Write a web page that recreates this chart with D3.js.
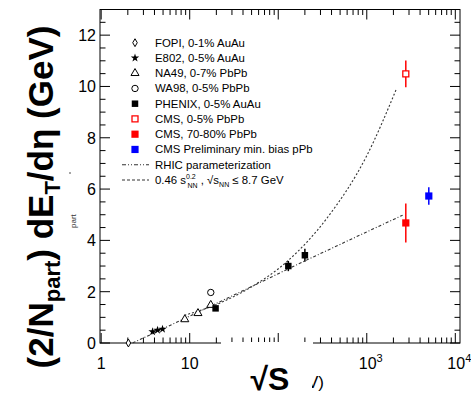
<!DOCTYPE html>
<html>
<head>
<meta charset="utf-8">
<script src="https://cdn.jsdelivr.net/npm/d3@7"></script>
<style>
  body { margin: 0; background: #fff; }
  text { font-family: "Liberation Sans", Arial, sans-serif; }
</style>
</head>
<body>
<div id="chart"></div>
<script>
// ---------------- data ----------------
const fopi = [{ s: 2.03, v: 0.0 }];
const e802 = [{ s: 3.81, v: 0.44 }, { s: 4.33, v: 0.5 }, { s: 4.93, v: 0.54 }];
const na49 = [{ s: 8.8, v: 0.92 }, { s: 12.4, v: 1.16 }, { s: 17.3, v: 1.48 }];
const wa98 = [{ s: 17.3, v: 1.97 }];
const phenix = [{ s: 19.6, v: 1.35, e: 0 }, { s: 130, v: 3.0, e: 0.2 }, { s: 200, v: 3.42, e: 0.25 }];
const cmsCentral = [{ s: 2760, v: 10.49, e: 0.52 }];
const cmsPeriph = [{ s: 2760, v: 4.68, e: 0.76 }];
const cmsPPb = [{ s: 5020, v: 5.73, e: 0.34 }];

const rhicCurve = [{ s: 2.27, v: 0 }, { s: 17.3, v: 1.44 }, { s: 50, v: 2.2 }, { s: 200, v: 3.2 }, { s: 700, v: 4.08 }, { s: 2540, v: 4.98 }];
const powerCurve = [{ s: 8.7, v: 1.08 }, { s: 20, v: 1.5 }, { s: 44.5, v: 2.09 }, { s: 130, v: 3.22 }, { s: 352, v: 4.85 }, { s: 1000, v: 7.3 }, { s: 2160, v: 9.9 }];

const yTicks = [0, 2, 4, 6, 8, 10, 12];
const xTickLabels = [
    { s: 1, base: '1', exp: '' },
    { s: 10, base: '10', exp: '' },
    { s: 1000, base: '10', exp: '3' },
    { s: 10000, base: '10', exp: '4' }
];

const legendItems = [
    { label: 'FOPI, 0-1% AuAu', kind: 'diamond' },
    { label: 'E802, 0-5% AuAu', kind: 'star' },
    { label: 'NA49, 0-7% PbPb', kind: 'triangle' },
    { label: 'WA98, 0-5% PbPb', kind: 'circle' },
    { label: 'PHENIX, 0-5% AuAu', kind: 'square' },
    { label: 'CMS, 0-5% PbPb', kind: 'openred' },
    { label: 'CMS, 70-80% PbPb', kind: 'red' },
    { label: 'CMS Preliminary min. bias pPb', kind: 'blue' },
    { label: 'RHIC parameterization', kind: 'dashdot' },
    { label: 'power', kind: 'dashed' }
];

// ---------------- drawing ----------------
const W = 471, H = 397;
const pLeft = 100, pRight = 460, pTop = 9.5, pBottom = 343;

const svg = d3.select('#chart')
    .append('svg')
    .attr('width', W)
    .attr('height', H);

const x = d3.scaleLog().domain([0.97, 11300]).range([pLeft, pRight]);
const y = d3.scaleLinear().domain([0, 13]).range([pBottom, pTop]);

// frame
svg.append('rect')
    .attr('x', pLeft).attr('y', pTop)
    .attr('width', pRight - pLeft).attr('height', pBottom - pTop)
    .attr('fill', 'none').attr('stroke', '#000').attr('stroke-width', 1);

// log ticks on top and bottom
const logTicks = [];
for (let e = 0; e <= 4; e++) {
    for (let m = 1; m <= 9; m++) {
        const v = m * Math.pow(10, e);
        if (v <= 11300) logTicks.push({ v, major: m === 1 });
    }
}
svg.selectAll('.xt-bottom')
    .data(logTicks)
    .enter()
    .append('line')
    .attr('x1', d => x(d.v)).attr('x2', d => x(d.v))
    .attr('y1', pBottom).attr('y2', d => pBottom - (d.major ? 10 : 5.5))
    .attr('stroke', '#000');
svg.selectAll('.xt-top')
    .data(logTicks)
    .enter()
    .append('line')
    .attr('x1', d => x(d.v)).attr('x2', d => x(d.v))
    .attr('y1', pTop).attr('y2', d => pTop + (d.major ? 10 : 5.5))
    .attr('stroke', '#000');

// the bottom axis line is broken under the title
svg.append('rect')
    .attr('x', 221).attr('y', pBottom - 1)
    .attr('width', 92).attr('height', 2.5)
    .attr('fill', '#fff');

// y ticks, left and right, minor every 0.5
const yMinor = d3.range(0, 13.01, 0.5);
['L', 'R'].forEach(side => {
    const x0 = side === 'L' ? pLeft : pRight;
    const dir = side === 'L' ? 1 : -1;
    svg.selectAll('.yt' + side)
        .data(yMinor)
        .enter()
        .append('line')
        .attr('x1', x0)
        .attr('x2', d => x0 + dir * (d % 2 === 0 ? 10 : 5.5))
        .attr('y1', d => y(d)).attr('y2', d => y(d))
        .attr('stroke', '#000');
});

// tick labels
svg.selectAll('.yl')
    .data(yTicks)
    .enter()
    .append('text')
    .attr('x', 96)
    .attr('y', d => y(d) + 6)
    .attr('text-anchor', 'end')
    .attr('font-size', '16px')
    .text(d => d);

const xl = svg.selectAll('.xl')
    .data(xTickLabels)
    .enter()
    .append('text')
    .attr('x', d => x(d.s) + (d.exp ? 4 : 0))
    .attr('y', 369)
    .attr('text-anchor', 'middle')
    .attr('font-size', '16px');
xl.append('tspan').text(d => d.base);
xl.append('tspan').attr('dy', -7).attr('font-size', '11px').text(d => d.exp);

// axis titles
const yTitle = svg.append('text')
    .attr('transform', 'translate(53,197) rotate(-90)')
    .attr('text-anchor', 'middle')
    .attr('font-size', '35px')
    .attr('font-weight', 'bold');
yTitle.append('tspan').text('(2/N');
yTitle.append('tspan').attr('font-size', '22px').attr('dy', 7).text('part');
yTitle.append('tspan').attr('dy', -7).text(') dE');
yTitle.append('tspan').attr('font-size', '22px').attr('dy', 7).text('T');
yTitle.append('tspan').attr('dy', -7).text('/dη (GeV)');

// leftover fragment of a small subscript
svg.append('text')
    .attr('transform', 'translate(76,228) rotate(-90)')
    .attr('font-size', '8px')
    .attr('fill', '#333')
    .text('part');
svg.append('circle').attr('cx', 70).attr('cy', 173).attr('r', 0.8).attr('fill', '#333');

svg.append('text')
    .attr('x', 270).attr('y', 390)
    .attr('text-anchor', 'middle')
    .attr('font-size', '32px')
    .attr('font-weight', 'bold')
    .text('√S');
svg.append('clipPath').attr('id', 'vclip')
    .append('rect').attr('x', 312).attr('y', 370).attr('width', 30).attr('height', 26);
svg.append('text')
    .attr('x', 307).attr('y', 388)
    .attr('font-size', '17px')
    .attr('clip-path', 'url(#vclip)')
    .text('V)');

// curves
const line = d3.line().x(d => x(d.s)).y(d => y(d.v)).curve(d3.curveMonotoneX);
svg.append('path')
    .datum(rhicCurve)
    .attr('d', line)
    .attr('fill', 'none').attr('stroke', '#333').attr('stroke-width', 1.1)
    .attr('stroke-dasharray', '3,2,1,2');
svg.append('path')
    .datum(powerCurve)
    .attr('d', line)
    .attr('fill', 'none').attr('stroke', '#333').attr('stroke-width', 1.1)
    .attr('stroke-dasharray', '2,2');

// markers
const sym = (type, size) => d3.symbol().type(type).size(size)();
const drawErr = (data, color) => {
    svg.selectAll(null)
        .data(data.filter(d => d.e > 0))
        .enter()
        .append('line')
        .attr('x1', d => x(d.s)).attr('x2', d => x(d.s))
        .attr('y1', d => y(d.v - d.e)).attr('y2', d => y(d.v + d.e))
        .attr('stroke', color).attr('stroke-width', 1.5);
};
const drawPts = (data, path, fill, stroke, sw) => {
    svg.selectAll(null)
        .data(data)
        .enter()
        .append('path')
        .attr('d', path)
        .attr('transform', d => `translate(${x(d.s)},${y(d.v)})`)
        .attr('fill', fill).attr('stroke', stroke).attr('stroke-width', sw);
};

const markerOf = {
    diamond: { path: sym(d3.symbolDiamond, 18), fill: '#fff', stroke: '#000', sw: 1 },
    star: { path: sym(d3.symbolStar, 22), fill: '#000', stroke: 'none', sw: 0 },
    triangle: { path: sym(d3.symbolTriangle, 28), fill: '#fff', stroke: '#000', sw: 1 },
    circle: { path: sym(d3.symbolCircle, 32), fill: '#fff', stroke: '#000', sw: 1 },
    square: { path: sym(d3.symbolSquare, 42), fill: '#000', stroke: 'none', sw: 0 },
    openred: { path: sym(d3.symbolSquare, 36), fill: '#fff', stroke: '#f00', sw: 1.3 },
    red: { path: sym(d3.symbolSquare, 52), fill: '#f00', stroke: 'none', sw: 0 },
    blue: { path: sym(d3.symbolSquare, 52), fill: '#00f', stroke: 'none', sw: 0 }
};

drawErr(phenix, '#000');
drawErr(cmsCentral, '#f00');
drawErr(cmsPeriph, '#f00');
drawErr(cmsPPb, '#00f');

[[fopi, 'diamond'], [e802, 'star'], [na49, 'triangle'], [wa98, 'circle'], [phenix, 'square'],
 [cmsCentral, 'openred'], [cmsPeriph, 'red'], [cmsPPb, 'blue']].forEach(([data, kind]) => {
    const m = markerOf[kind];
    drawPts(data, m.path, m.fill, m.stroke, m.sw);
});

// legend
const legend = svg.append('g');
legendItems.forEach((item, i) => {
    const ly = 42.7 + i * 15.25;
    if (markerOf[item.kind]) {
        const m = markerOf[item.kind];
        legend.append('path')
            .attr('d', m.path)
            .attr('transform', `translate(135,${ly})`)
            .attr('fill', m.fill).attr('stroke', m.stroke).attr('stroke-width', m.sw);
    } else {
        legend.append('line')
            .attr('x1', 122).attr('x2', 149)
            .attr('y1', ly).attr('y2', ly)
            .attr('stroke', '#333').attr('stroke-width', 1.1)
            .attr('stroke-dasharray', item.kind === 'dashdot' ? '4,2,1,2,1,2' : '3,2');
    }
    const t = legend.append('text')
        .attr('x', 155).attr('y', ly + 4)
        .attr('font-size', '11.4px');
    if (item.kind === 'dashed') {
        t.append('tspan').text('0.46 s');
        t.append('tspan').attr('font-size', '7px').attr('dy', -5).text('0.2');
        t.append('tspan').attr('font-size', '7px').attr('x', 187.5).attr('dy', 9).text('NN');
        t.append('tspan').attr('dy', -4).text(' , √s');
        t.append('tspan').attr('font-size', '7px').attr('dy', 3).text('NN');
        t.append('tspan').attr('dy', -3).text(' ≤ 8.7 GeV');
    } else {
        t.text(item.label);
    }
});
</script>
</body>
</html>
